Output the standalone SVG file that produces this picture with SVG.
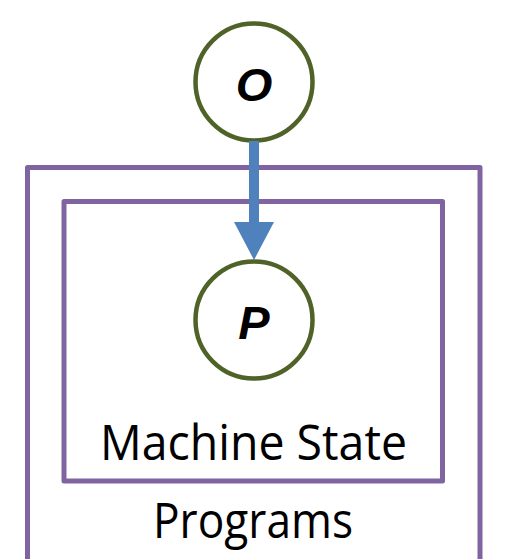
<svg xmlns="http://www.w3.org/2000/svg" width="506" height="559" viewBox="0 0 506 559">
  <style>
    .frame { fill: none; stroke: #8064a2; stroke-width: 5; stroke-linejoin: round; }
    .node circle { fill: #ffffff; stroke: #4f6228; stroke-width: 4.5; }
    .node text { font-family: "Liberation Sans", Arial, sans-serif; font-weight: bold; font-style: italic; font-size: 47px; fill: #000000; text-anchor: middle; }
    .label { font-family: "Open Sans", "Liberation Sans", sans-serif; font-size: 49px; fill: #000000; text-anchor: middle; }
    .edge { stroke: #4f81bd; stroke-width: 10; fill: none; }
  </style>
  <defs>
    <marker id="arrowhead" markerUnits="userSpaceOnUse" viewBox="0 0 38 40" markerWidth="38" markerHeight="40" refX="0" refY="20" orient="auto">
      <path d="M0,0 L38,20 L0,40 Z" fill="#4f81bd"/>
    </marker>
  </defs>

  <rect width="506" height="559" fill="#ffffff"/>

  <!-- plates -->
  <g id="programs">
    <rect class="frame" x="27.5" y="167.5" width="452.5" height="420"/>
    <text class="label" x="253" y="538" textLength="200" lengthAdjust="spacingAndGlyphs">Programs</text>
  </g>
  <g id="machine-state">
    <rect class="frame" x="64" y="201.5" width="378.5" height="279.5"/>
    <text class="label" x="253.5" y="460" textLength="307" lengthAdjust="spacingAndGlyphs">Machine State</text>
  </g>

  <!-- nodes -->
  <g id="node-O" class="node">
    <circle cx="254" cy="82" r="58.5"/>
    <text x="254" y="101">O</text>
  </g>
  <g id="node-P" class="node">
    <circle cx="254" cy="320" r="58.5"/>
    <text x="254" y="339">P</text>
  </g>

  <!-- connectors -->
  <g id="edges">
    <line class="edge" x1="254" y1="141" x2="254" y2="222" marker-end="url(#arrowhead)"/>
  </g>
</svg>
